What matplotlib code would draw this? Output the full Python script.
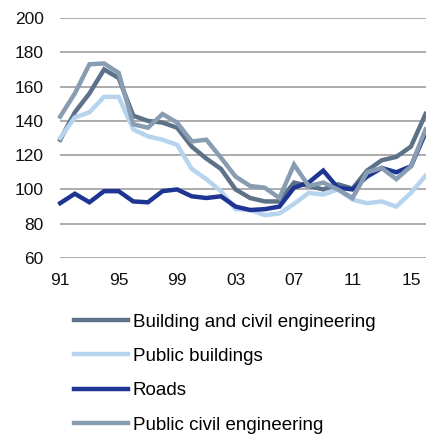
import matplotlib.pyplot as plt

plt.rcParams['font.family'] = ['Liberation Sans', 'DejaVu Sans']

# Data (index values)
years = list(range(1991, 2017))

building_civil = [129, 145, 156, 170, 165, 143, 140, 139, 136, 125, 118, 112, 100, 95,
                  93, 93, 104, 102, 100, 103, 100.5, 111, 117, 119, 125, 144]
public_buildings = [130, 142, 145, 154, 154, 135, 131, 129, 126, 112, 106, 99, 88.5, 88,
                    85, 86, 91.5, 98, 97, 100, 94, 92, 93, 90, 98, 108]
roads = [92, 97.5, 92.5, 99, 99, 93, 92.5, 99, 100, 96, 95, 96, 90, 88,
         88.5, 90, 101, 104, 111, 101, 100, 107.5, 112.5, 110, 113.5, 133]
public_civil = [142.5, 156, 173, 173.5, 168, 138, 136, 144, 139, 128, 129, 118.5, 107.5, 102,
                101, 95, 114.5, 102, 104, 100, 95, 110, 112.5, 106, 113.5, 135]

series_names = ["Building and civil engineering", "Public buildings", "Roads",
                "Public civil engineering"]
series_values = [building_civil, public_buildings, roads, public_civil]
series_colors = ["#5d7288", "#b7d4ef", "#1f3594", "#889db1"]

tick_years = [1991, 1995, 1999, 2003, 2007, 2011, 2015]
tick_labels = ["91", "95", "99", "03", "07", "11", "15"]
y_ticks = [60, 80, 100, 120, 140, 160, 180, 200]


fig = plt.figure(figsize=(4.27, 4.34), dpi=100)
ax = fig.add_axes([0.141, 0.4055, 0.859, 0.553])

for name, vals, col in zip(series_names, series_values, series_colors):
    ax.plot(years, vals, color=col, linewidth=3.2, label=name,
            solid_joinstyle="miter", clip_on=False)

ax.set_xlim(1991, 2016.1)
ax.set_ylim(60, 200)
ax.set_yticks(y_ticks)
ax.set_xticks(tick_years)
ax.set_xticklabels(tick_labels)

ax.grid(axis="y", color="#a6a6a6", linewidth=1.3)
ax.set_axisbelow(True)
for s in ax.spines.values():
    s.set_visible(False)
ax.tick_params(length=0, labelsize=12.5, colors="#111111")
ax.tick_params(axis="x", pad=10.5)
ax.tick_params(axis="y", pad=12)

handles, labels = ax.get_legend_handles_labels()
leg = fig.legend(handles, labels, loc="center left", bbox_to_anchor=(0.173, 0.139),
                 frameon=False, fontsize=13.5, handlelength=2.9, handletextpad=0.25,
                 labelspacing=0.92, borderpad=0, borderaxespad=0)
for line in leg.get_lines():
    line.set_linewidth(3.2)

fig.savefig("out.png", dpi=100)
